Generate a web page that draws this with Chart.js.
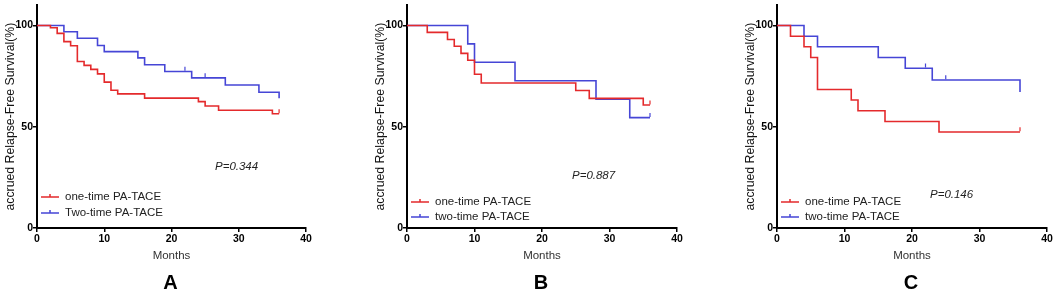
<!DOCTYPE html>
<html>
<head>
<meta charset="utf-8">
<script src="https://cdn.jsdelivr.net/npm/chart.js@4"></script>
<style>
  html, body { margin: 0; padding: 0; background: #fff; overflow: hidden; }
  .panel { position: absolute; top: 0; }
</style>
</head>
<body>
<div class="panel" style="left:0px"><canvas id="chartA" width="330" height="294"></canvas></div>
<div class="panel" style="left:370px"><canvas id="chartB" width="330" height="294"></canvas></div>
<div class="panel" style="left:740px"><canvas id="chartC" width="330" height="294"></canvas></div>
<script>
// panel A
const aOneMonths = [0, 2, 3, 4, 5, 6, 7, 8, 9, 10, 11, 12, 16, 24, 25, 27, 35, 36];
const aOneSurv   = [100, 98.9, 96.1, 92, 90, 82.2, 80.3, 78.3, 76.1, 72, 68, 66.2, 64.1, 62.4, 60.2, 58.1, 56.4, 56.4];
const aTwoMonths = [0, 4, 6, 9, 10, 15, 16, 19, 23, 28, 33, 36];
const aTwoSurv   = [100, 96.9, 93.7, 90.1, 87.1, 84, 80.6, 77.3, 74.1, 70.6, 67, 64];
const aOneCensor = [[36, 56.4]];
const aTwoCensor = [[22, 77.3], [25, 74.1]];

// panel B
const bOneMonths = [0, 3, 6, 7, 8, 9, 10, 11, 25, 27, 35, 36];
const bOneSurv   = [100, 96.6, 93.1, 89.7, 86.2, 82.8, 75.9, 71.6, 67.9, 64, 60.7, 60.7];
const bTwoMonths = [0, 9, 10, 16, 28, 33, 36];
const bTwoSurv   = [100, 90.9, 81.8, 72.7, 63.6, 54.5, 54.5];
const bOneCensor = [[36, 60.7]];
const bTwoCensor = [[36, 54.5]];

// panel C
const cOneMonths = [0, 2, 4, 5, 6, 11, 12, 16, 24, 36];
const cOneSurv   = [100, 94.7, 89.5, 84.2, 68.4, 63.2, 57.9, 52.6, 47.4, 47.4];
const cTwoMonths = [0, 4, 6, 15, 19, 23, 36];
const cTwoSurv   = [100, 94.7, 89.5, 84.2, 78.9, 73.1, 67.2];
const cOneCensor = [[36, 47.4]];
const cTwoCensor = [[22, 78.9], [25, 73.1]];

const xTicks = [0, 10, 20, 30, 40];
const yTicks = [0, 50, 100];
const legendA = ["one-time PA-TACE", "Two-time PA-TACE"];
const legendBC = ["one-time PA-TACE", "two-time PA-TACE"];

const RED = "#e42a2c";
const BLUE = "#4646d6";
const FONT = "'Liberation Sans', Arial, sans-serif";

function toPoints(months, surv){
    return months.map(function(m, i){ return {x: m, y: surv[i]}; });
}

function censorPoints(list){
    return list.map(function(p){ return {x: p[0], y: p[1] + 1.3}; });
}

// legend, p value and panel letter
const kmExtras = {
    id: "kmExtras",
    afterDraw(chart, args, opts){
        const ctx = chart.ctx;
        const a = chart.chartArea;
        ctx.save();
        ctx.textBaseline = "middle";
        ctx.textAlign = "left";
        ctx.font = "11.5px " + FONT;
        const colors = [RED, BLUE];
        opts.labels.forEach(function(label, i){
            const y = opts.legendY[i];
            ctx.strokeStyle = colors[i];
            ctx.lineWidth = 1.5;
            ctx.beginPath();
            ctx.moveTo(a.left + 4, y);
            ctx.lineTo(a.left + 22, y);
            ctx.moveTo(a.left + 13, y);
            ctx.lineTo(a.left + 13, y - 3);
            ctx.stroke();
            ctx.fillStyle = "#222";
            ctx.fillText(label, a.left + 28, y);
        });
        ctx.font = "italic 11.5px " + FONT;
        ctx.fillText(opts.pText, opts.pX, opts.pY);
        ctx.font = "bold 20px " + FONT;
        ctx.textAlign = "center";
        ctx.fillStyle = "#000";
        ctx.fillText(opts.letter, (a.left + a.right) / 2 - 1, 283);
        ctx.restore();
    }
};

function makeChart(id, one, two, oneC, twoC, extras, padRight){
    const ctx = document.getElementById(id);
    new Chart(ctx, {
        type: "line",
        plugins: [kmExtras],
        data: {
            datasets: [
                { data: one, borderColor: RED, borderWidth: 1.6, stepped: true, pointRadius: 0, fill: false },
                { data: two, borderColor: BLUE, borderWidth: 1.6, stepped: true, pointRadius: 0, fill: false },
                { data: oneC, showLine: false, pointStyle: "line", rotation: 90, pointRadius: 2, borderColor: RED, borderWidth: 1.2 },
                { data: twoC, showLine: false, pointStyle: "line", rotation: 90, pointRadius: 2, borderColor: BLUE, borderWidth: 1.2 }
            ]
        },
        options: {
            responsive: false,
            animation: false,
            devicePixelRatio: 1,
            layout: { padding: { left: 0, right: padRight, top: 1, bottom: 26 } },
            plugins: {
                legend: { display: false },
                tooltip: { enabled: false },
                kmExtras: extras
            },
            scales: {
                x: {
                    type: "linear",
                    min: 0,
                    max: 40,
                    afterBuildTicks: function(s){ s.ticks = xTicks.map(function(v){ return {value: v}; }); },
                    afterFit: function(s){ s.height = 40; s.paddingLeft = 0; s.paddingRight = 0; },
                    border: { display: true, color: "#000", width: 2 },
                    grid: { display: true, drawOnChartArea: false, drawTicks: true, tickLength: 4, color: "#000", lineWidth: 1.5 },
                    ticks: { padding: 1, color: "#000", maxRotation: 0, font: { family: FONT, size: 10.5, weight: "bold" } },
                    title: { display: true, text: "Months", color: "#333", padding: { top: 0, bottom: 5 }, font: { family: FONT, size: 11.5 } }
                },
                y: {
                    type: "linear",
                    min: 0,
                    max: 110,
                    afterBuildTicks: function(s){ s.ticks = yTicks.map(function(v){ return {value: v}; }); },
                    afterFit: function(s){ s.width = 37; s.paddingTop = 0; s.paddingBottom = 0; },
                    border: { display: true, color: "#000", width: 2 },
                    grid: { display: true, drawOnChartArea: false, drawTicks: true, tickLength: 4, color: "#000", lineWidth: 1.5 },
                    ticks: { padding: 0, color: "#000", font: { family: FONT, size: 10.5, weight: "bold" } },
                    title: { display: true, text: "accrued Relapse-Free Survival(%)", color: "#111", padding: { top: 3, bottom: 0 }, font: { family: FONT, size: 12.3 } }
                }
            }
        }
    });
}

makeChart("chartA",
    toPoints(aOneMonths, aOneSurv), toPoints(aTwoMonths, aTwoSurv),
    censorPoints(aOneCensor), censorPoints(aTwoCensor),
    { labels: legendA, legendY: [197, 213], pText: "P=0.344", pX: 215, pY: 167, letter: "A" }, 24);

makeChart("chartB",
    toPoints(bOneMonths, bOneSurv), toPoints(bTwoMonths, bTwoSurv),
    censorPoints(bOneCensor), censorPoints(bTwoCensor),
    { labels: legendBC, legendY: [202, 217], pText: "P=0.887", pX: 202, pY: 176, letter: "B" }, 23);

makeChart("chartC",
    toPoints(cOneMonths, cOneSurv), toPoints(cTwoMonths, cTwoSurv),
    censorPoints(cOneCensor), censorPoints(cTwoCensor),
    { labels: legendBC, legendY: [202, 217], pText: "P=0.146", pX: 190, pY: 195, letter: "C" }, 23);
</script>
</body>
</html>
